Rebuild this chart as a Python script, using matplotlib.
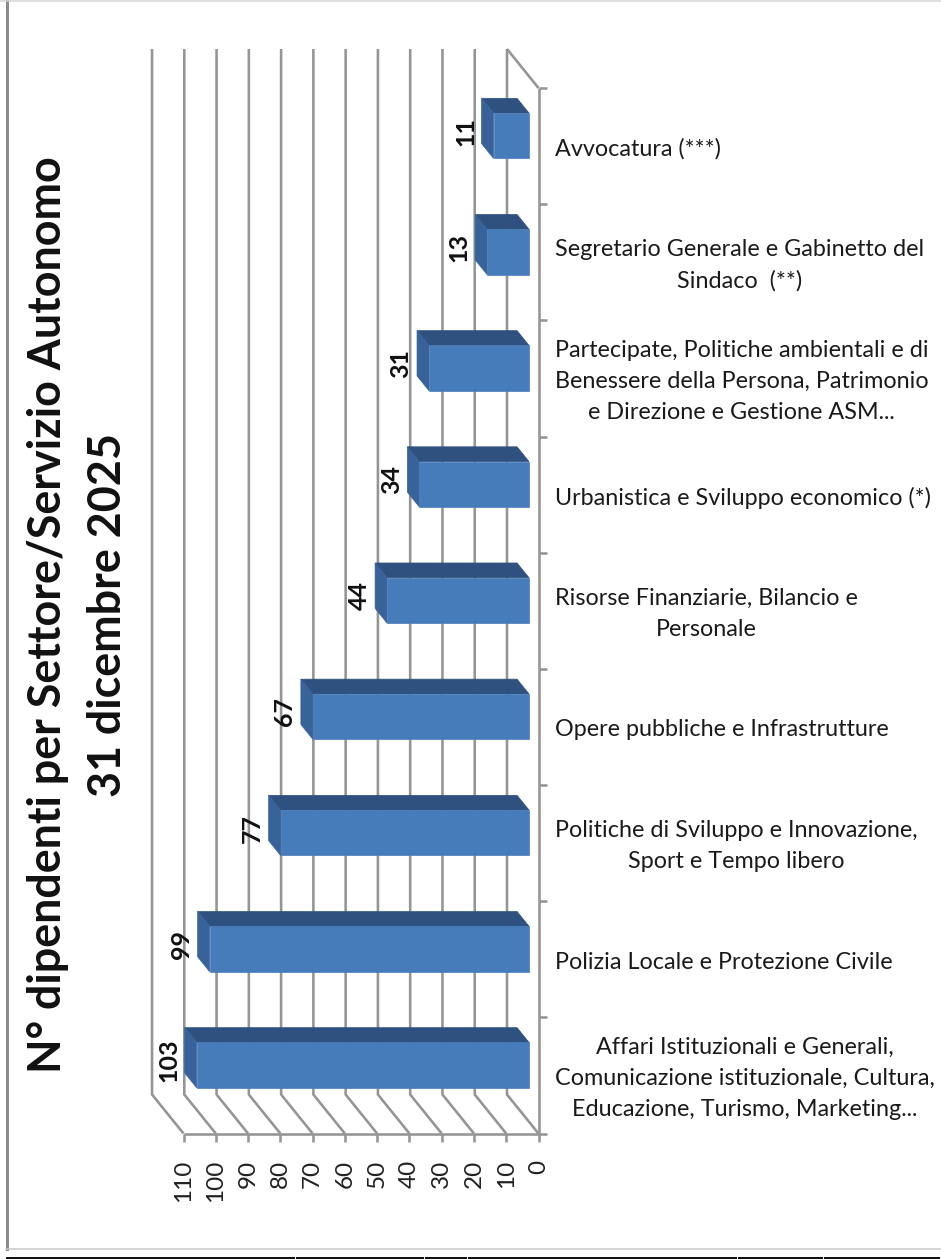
import matplotlib
matplotlib.use("Agg")
import matplotlib.pyplot as plt
from matplotlib.patches import Polygon
from matplotlib.lines import Line2D

categories = [
    "Avvocatura (***)",
    "Segretario Generale e Gabinetto del\nSindaco  (**)",
    "Partecipate, Politiche ambientali e di\nBenessere della Persona, Patrimonio\ne Direzione e Gestione ASM...",
    "Urbanistica e Sviluppo economico (*)",
    "Risorse Finanziarie, Bilancio e\nPersonale",
    "Opere pubbliche e Infrastrutture",
    "Politiche di Sviluppo e Innovazione,\nSport e Tempo libero",
    "Polizia Locale e Protezione Civile",
    "Affari Istituzionali e Generali,\nComunicazione istituzionale, Cultura,\nEducazione, Turismo, Marketing...",
]
values = [11, 13, 31, 34, 44, 67, 77, 99, 103]
value_ticks = [0, 10, 20, 30, 40, 50, 60, 70, 80, 90, 100, 110]
title = "N° dipendenti per Settore/Servizio Autonomo\n31 dicembre 2025"

W, H = 941, 1259
PX_PER_VALUE = 3.227
PX_PER_BAND = 116.17
ZERO_PX = 538.5
TOP_PX = 88.0
DEPTH_X = 31.5 / PX_PER_VALUE
DEPTH_Y = 39.0 / PX_PER_BAND
GRID = "#959595"
FONT = "Lato"
PX = 0.72

fig = plt.figure(figsize=(W / 100, H / 100), dpi=100, facecolor="white")
ax = fig.add_axes([0, 0, 1, 1])
ax.set_xlim(ZERO_PX / PX_PER_VALUE, (ZERO_PX - W) / PX_PER_VALUE)
ax.set_ylim((H - TOP_PX) / PX_PER_BAND, -TOP_PX / PX_PER_BAND)
ax.axis("off")
n = len(categories)


def pt(v, band, depth=0.0):
    return (v + DEPTH_X * depth, band - DEPTH_Y * depth)


line = dict(color=GRID, lw=2.6 * PX, solid_capstyle="butt", zorder=1)
for t in value_ticks:
    a, b, c = pt(t, n, 0), pt(t, n, 1), pt(t, 0, 1)
    ax.plot([a[0], b[0], c[0]], [a[1], b[1], c[1]], **line)
    ax.plot([t, t], [n, n + 8 / PX_PER_BAND], **line)
    ax.annotate(str(t), xy=(t, n), xytext=(0, -26 * PX), textcoords="offset points",
                rotation=90, ha="center", va="top", fontsize=17.5, family=FONT, color="#222222")
ax.plot([0, 0, value_ticks[-1]], [0, n, n], **line)
a, b = pt(0, 0, 0), pt(0, 0, 1)
ax.plot([a[0], b[0]], [a[1], b[1]], **line)

for i in range(n + 1):
    ax.plot([0, -8 / PX_PER_VALUE], [i, i], **line)

F0, F1 = 0.30, 0.68
HALF = 0.195
for i, (name, v) in enumerate(zip(categories, values)):
    y0, y1 = i + 0.5 - HALF + 0.012, i + 0.5 + HALF + 0.012
    front = [pt(0, y0, F0), pt(v, y0, F0), pt(v, y1, F0), pt(0, y1, F0)]
    top = [pt(0, y0, F0), pt(v, y0, F0), pt(v, y0, F1), pt(0, y0, F1)]
    side = [pt(v, y0, F0), pt(v, y0, F1), pt(v, y1, F1), pt(v, y1, F0)]
    ax.add_patch(Polygon(top, closed=True, fc="#2f5180", ec="#2f5180", lw=0.5, zorder=3))
    ax.add_patch(Polygon(side, closed=True, fc="#38639a", ec="#38639a", lw=0.5, zorder=3))
    ax.add_patch(Polygon(front, closed=True, fc="#477cbb", ec="#477cbb", lw=0.5, zorder=4))
    lx, ly = pt(v, i + 0.5, F1)
    ax.annotate(str(v), xy=(lx, i + 0.5), xytext=(-16 * PX, 15 * PX), textcoords="offset points",
                rotation=90, ha="center", va="center", fontsize=18, fontweight="bold",
                family=FONT, color="#111111", zorder=5)
    ax.annotate(name, xy=(0, i + 0.5), xytext=(16.5 * PX, -3 * PX), textcoords="offset points",
                ha="left", va="center", multialignment="center", fontsize=16.8,
                family=FONT, color="#1a1a1a", linespacing=1.57)

fig.text(78 / W, 1 - 615 / H, title, rotation=90, ha="center", va="center",
         multialignment="center", fontsize=32.3, fontweight="bold", family=FONT,
         color="#111111", linespacing=1.55)

fig.add_artist(Line2D([7 / W, 7 / W], [1, 1 - 1249 / H], color="#8a8a8a", lw=3 * PX))
fig.add_artist(Line2D([6 / W, 1], [1 - 1248.5 / H] * 2, color="#c8c8c8", lw=1.5 * PX))
fig.add_artist(Line2D([0, 1], [1 - 0.5 / H] * 2, color="#d5d5d5", lw=1.5 * PX))
edges = [6, 296, 425, 468, 738, 824, 941]
for x0, x1 in zip(edges[:-1], edges[1:]):
    fig.add_artist(Line2D([x0 / W, (x1 - 1) / W], [1 - 1258 / H] * 2, color="#111111",
                          lw=2 * PX, solid_capstyle="butt"))

fig.savefig("out.png", dpi=100)
